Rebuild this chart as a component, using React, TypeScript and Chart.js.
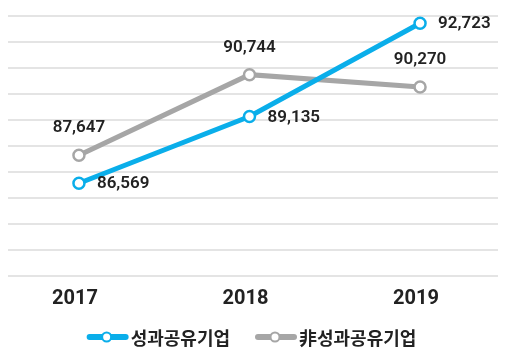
import React, { useEffect, useRef } from "react";
import { Chart, registerables } from "chart.js";

Chart.register(...registerables);

const years = [2017, 2018, 2019];
const sharingValues = [86569, 89135, 92723];
const nonSharingValues = [87647, 90744, 90270];
const seriesNames = ["성과공유기업", "非성과공유기업"];
const yMin = 83000;
const yMax = 93000;
const yStep = 1000;

const BLUE = "#0AAEEA";
const GRAY = "#A6A6A6";

const dataLabelPlugin = {
  id: "dataLabels",
  afterDatasetsDraw(chart: any) {
    const ctx = chart.ctx;
    ctx.save();
    ctx.font = "600 17px Roboto";
    ctx.fillStyle = "#222222";
    chart.data.datasets.forEach((ds: any, i: number) => {
      const meta = chart.getDatasetMeta(i);
      meta.data.forEach((pt: any, j: number) => {
        const v = ds.data[j].y;
        const text = v.toLocaleString("en-US");
        ctx.textBaseline = "middle";
        if (i === 0) {
          ctx.textAlign = "left";
          ctx.fillText(text, pt.x + 18, pt.y + 1);
        } else {
          ctx.textAlign = "center";
          ctx.fillText(text, pt.x, pt.y - 27);
        }
      });
    });
    ctx.restore();
  },
};

const customLegendPlugin = {
  id: "customLegend",
  afterDraw(chart: any) {
    const ctx = chart.ctx;
    const ds = chart.data.datasets;
    const symW = 42;
    const gap = 2;
    const spacing = 25;
    ctx.save();
    ctx.font = "bold 18px 'Noto Sans CJK KR'";
    const widths = ds.map((d: any) => ctx.measureText(d.label).width);
    let total = 0;
    widths.forEach((w: number, i: number) => {
      total += symW + gap + w + (i > 0 ? spacing : 0);
    });
    let x = chart.width / 2 - 2 - total / 2;
    const y = 337;
    ds.forEach((d: any, i: number) => {
      const color = d.borderColor;
      ctx.strokeStyle = color;
      ctx.lineWidth = 6;
      ctx.lineCap = "round";
      ctx.beginPath();
      ctx.moveTo(x + 3, y);
      ctx.lineTo(x + symW - 3, y);
      ctx.stroke();
      ctx.beginPath();
      ctx.arc(x + symW / 2 - 1, y, 4.5, 0, Math.PI * 2);
      ctx.fillStyle = "#ffffff";
      ctx.fill();
      ctx.lineWidth = 2;
      ctx.stroke();
      ctx.fillStyle = "#222222";
      ctx.textAlign = "left";
      ctx.textBaseline = "middle";
      ctx.fillText(d.label, x + symW + gap, y + 1);
      x += symW + gap + widths[i] + spacing;
    });
    ctx.restore();
  },
};

export default function App() {
  const ref = useRef<HTMLCanvasElement>(null);
  useEffect(() => {
    const colors = [BLUE, GRAY];
    const seriesValues = [sharingValues, nonSharingValues];
    const chart = new Chart(ref.current!, {
      type: "line",
      data: {
        datasets: seriesValues.map((vals, k) => ({
          label: seriesNames[k],
          data: years.map((x, i) => ({ x, y: vals[i] })),
          borderColor: colors[k],
          backgroundColor: "#ffffff",
          borderWidth: 5,
          pointRadius: 5.5,
          pointBorderWidth: 2.5,
          pointBackgroundColor: "#ffffff",
          pointBorderColor: colors[k],
          pointStyle: "circle",
        })),
      },
      options: {
        responsive: false,
        animation: false,
        layout: { padding: { left: 8, right: 9, top: 16, bottom: 47 } },
        scales: {
          x: {
            type: "linear",
            min: 2016.584,
            max: 2019.457,
            grid: { display: false, drawTicks: false },
            border: { display: false },
            afterBuildTicks: (scale: any) => {
              scale.ticks = years.map((v) => ({ value: v }));
            },
            afterFit: (scale: any) => {
              scale.height = 35;
            },
            ticks: {
              padding: 11,
              color: "#222222",
              font: { family: "Roboto", size: 20, weight: "bold" },
              callback: (v: any) => String(v),
              labelOffset: -4,
            },
          },
          y: {
            min: yMin,
            max: yMax,
            grid: { color: "#e4e4e4", lineWidth: 2, drawTicks: false },
            border: { display: false },
            ticks: { display: false, stepSize: yStep },
          },
        },
        plugins: {
          tooltip: { enabled: false },
          legend: { display: false },
        },
      },
      plugins: [dataLabelPlugin, customLegendPlugin],
    });
    return () => chart.destroy();
  }, []);
  return (
    <div style={{ position: "absolute", left: 0, top: 0, width: 507, height: 358, background: "#fff" }}>
      <canvas ref={ref} width={507} height={358} />
    </div>
  );
}
